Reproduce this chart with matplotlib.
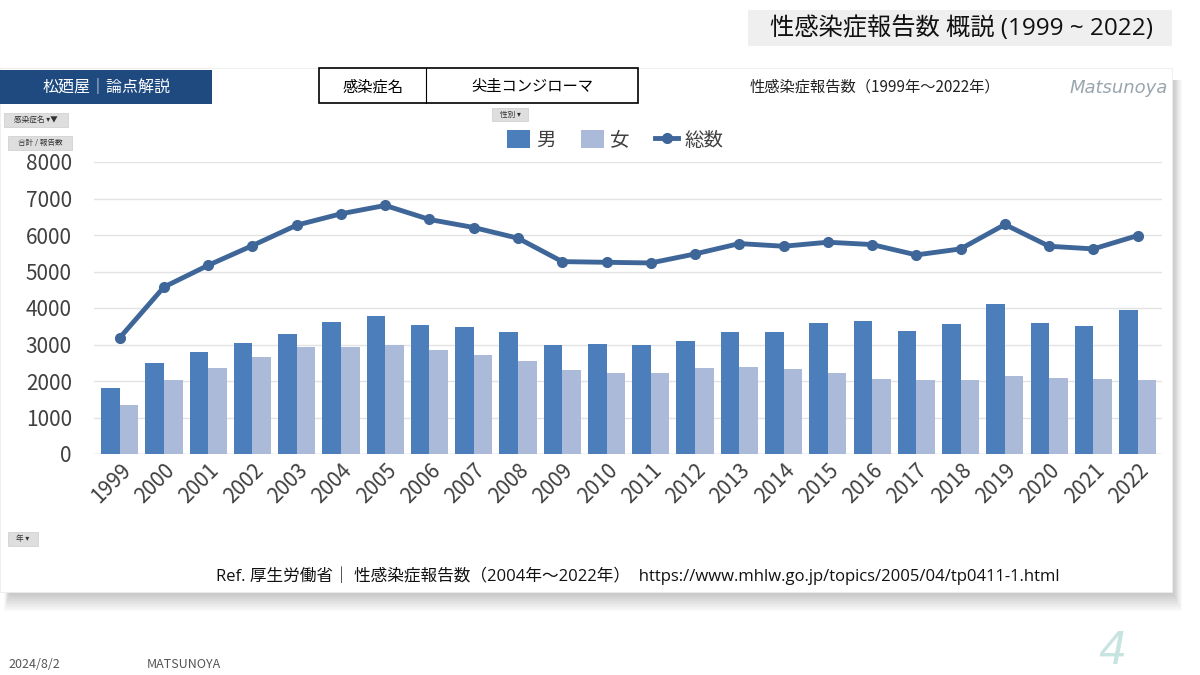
import matplotlib
matplotlib.use('Agg')
import matplotlib.pyplot as plt
from matplotlib.patches import Rectangle, Patch
from matplotlib.lines import Line2D
import numpy as np

plt.rcParams['font.family'] = ['Noto Sans CJK JP', 'DejaVu Sans']
LATIN_FIRST = ['Open Sans', 'Noto Sans CJK JP']

years = [str(y) for y in range(1999, 2023)]
male = [1806, 2502, 2805, 3034, 3281, 3621, 3776, 3529, 3474, 3336, 2979, 3016,
        2979, 3107, 3336, 3336, 3593, 3657, 3382, 3566, 4106, 3584, 3520, 3951]
female = [1347, 2035, 2346, 2649, 2942, 2942, 2997, 2860, 2713, 2557, 2292, 2227,
          2227, 2346, 2383, 2328, 2218, 2062, 2035, 2017, 2136, 2090, 2062, 2017]
total = [3181, 4574, 5170, 5710, 6270, 6581, 6810, 6425, 6205, 5912, 5271, 5252,
         5234, 5481, 5765, 5692, 5802, 5738, 5454, 5619, 6288, 5692, 5619, 5985]

C_MALE = '#4d7ebc'
C_FEMALE = '#abbad8'
C_TOTAL = '#3f6699'
W, H = 1200, 675


def fx(x):
    return x / W


def fy(y):
    return 1 - y / H


def box(fig, x0, y0, x1, y1, **kw):
    r = Rectangle((fx(x0), fy(y1)), fx(x1) - fx(x0), fy(y0) - fy(y1),
                  transform=fig.transFigure, **kw)
    fig.add_artist(r)
    return r


fig = plt.figure(figsize=(12, 6.75), dpi=100)
fig.patch.set_facecolor('white')

# soft shadow under the chart panel
for d in range(1, 20, 2):
    box(fig, 10 - d * 0.3, 80, 1172 + d * 0.5, 592 + d, facecolor='#000000', alpha=0.022,
        edgecolor='none', zorder=0)
box(fig, 0, 68, 1172, 592, facecolor='white', edgecolor='#ececec', lw=0.6, zorder=1)

# top right title
box(fig, 748, 10, 1172, 46, facecolor='#efefef', edgecolor='none', zorder=1)
fig.text(fx(962), fy(29), '性感染症報告数 概説 (1999 ~ 2022)', ha='center', va='center',
         fontsize=17.5, color='#111111', family=LATIN_FIRST, zorder=2)

# header
box(fig, 0, 70, 212, 104, facecolor='#1f4a80', edgecolor='none', zorder=2)
fig.text(fx(107), fy(87), '松廼屋｜論点解説', ha='center', va='center', fontsize=11.5,
         color='white', zorder=3)

box(fig, 319, 68, 638, 103, facecolor='white', edgecolor='black', lw=1.2, zorder=2)
fig.add_artist(Line2D([fx(426), fx(426)], [fy(68), fy(103)], color='black', lw=0.8,
                      transform=fig.transFigure, zorder=3))
fig.text(fx(373), fy(87), '感染症名', ha='center', va='center', fontsize=11, zorder=3)
fig.text(fx(532), fy(87), '尖圭コンジローマ', ha='center', va='center', fontsize=11, zorder=3)

fig.text(fx(750), fy(87), '性感染症報告数（1999年～2022年）', ha='left', va='center',
         fontsize=11, color='#222222', zorder=3)
fig.text(fx(1168), fy(88), 'Matsunoya', ha='right', va='center', fontsize=13,
         style='italic', color='#9aa6ae', family='DejaVu Sans', fontweight='light', zorder=3)

# small pivot buttons
for (x0, y0, x1, y1, t) in [(4, 113, 68, 127, '感染症名 ▾▼'), (8, 136, 72, 150, '合計 / 報告数'),
                            (492, 108, 528, 121, '性別 ▾'), (8, 532, 38, 546, '年 ▾')]:
    box(fig, x0, y0, x1, y1, facecolor='#dedede', edgecolor='#cccccc', lw=0.5, zorder=3)
    fig.text(fx((x0 + x1) / 2), fy((y0 + y1) / 2), t, ha='center', va='center',
             fontsize=5.5, color='#333333', zorder=4)

# chart
ax = fig.add_axes([fx(94), fy(454), fx(1162) - fx(94), fy(162) - fy(454)], zorder=5)
ax.patch.set_alpha(0)
x = np.arange(len(years))
bw = 0.42
ax.bar(x - bw / 2, male, bw, color=C_MALE, zorder=2)
ax.bar(x + bw / 2, female, bw, color=C_FEMALE, zorder=2)
ax.plot(x, total, color=C_TOTAL, lw=3.5, marker='o', ms=7, zorder=3)

ax.set_xlim(-0.58, len(years) - 0.45)
ax.set_ylim(0, 8000)
ax.set_yticks(range(0, 8001, 1000))
ax.yaxis.grid(True, color='#e3e3e3', lw=1)
ax.set_axisbelow(True)
for s in ax.spines.values():
    s.set_visible(False)
ax.axhline(0, color='#d9d9d9', lw=1, zorder=1)
ax.tick_params(axis='both', length=0, labelsize=15, colors='#404040')
ax.tick_params(axis='y', pad=16)
ax.set_xticks(x)
ax.set_xticklabels(years, rotation=45, ha='right', rotation_mode='anchor')
ax.tick_params(axis='x', pad=4)

handles = [Patch(facecolor=C_MALE), Patch(facecolor=C_FEMALE),
           Line2D([0], [0], color=C_TOTAL, lw=3.5, marker='o', ms=7)]
fig.legend(handles, ['男', '女', '総数'], ncol=3, loc='center',
           bbox_to_anchor=(fx(615), fy(140)), frameon=False, fontsize=14,
           handlelength=1.2, handleheight=1.0, columnspacing=1.3, handletextpad=0.3,
           labelcolor='#404040')

fig.text(fx(216), fy(576),
         'Ref. 厚生労働省｜ 性感染症報告数（2004年～2022年）  https://www.mhlw.go.jp/topics/2005/04/tp0411-1.html',
         ha='left', va='center', fontsize=12, color='#111111', family=LATIN_FIRST, zorder=3)

# footer
fig.text(fx(8), fy(665), '2024/8/2', ha='left', va='center', fontsize=9, color='#555555')
fig.text(fx(147), fy(665), 'MATSUNOYA', ha='left', va='center', fontsize=9, color='#555555')
fig.text(fx(1112), fy(652), '4', ha='center', va='center', fontsize=32, color='#c8e4e0',
         style='italic', fontweight='light', family='DejaVu Sans')

fig.savefig('out.png', dpi=100, facecolor='white')
